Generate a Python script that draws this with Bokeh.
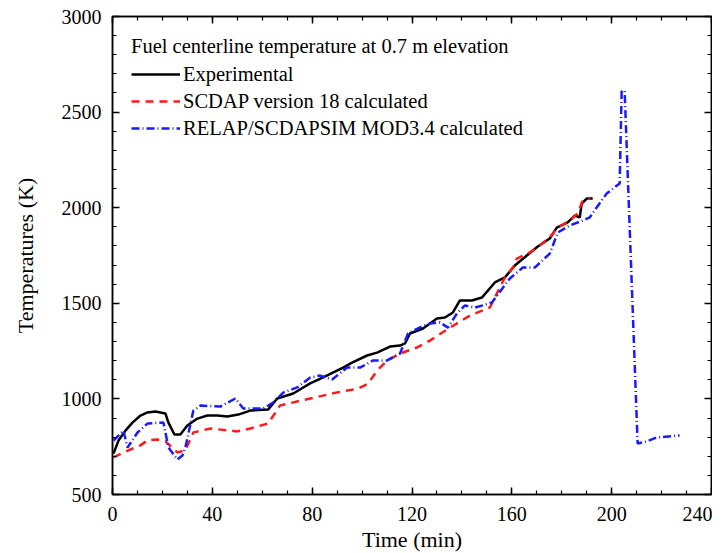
from bokeh.plotting import figure
from bokeh.models import LinearAxis, SingleIntervalTicker, Legend, LegendItem, Range1d, CustomJSTickFormatter
from bokeh.embed import file_html
from bokeh.resources import INLINE

# ---- data ----
exp_t = [0.4, 2.4, 5.2, 8, 11.2, 14, 17.2, 21.2, 22.4, 24.8, 27.2, 30, 34, 38, 42, 46, 50.4,
         55.2, 62.4, 66, 72.4, 79.2, 84.4, 92.4, 96, 102, 106, 111.2, 115.2, 117.2, 119.2,
         124.4, 130, 133.2, 136.4, 139.2, 144, 148, 153.2, 157.2, 161.2, 166, 170.4, 175.2,
         178, 182.4, 185.2, 187.2, 188, 190, 192.4]
exp_T = [714, 782, 834, 876, 913, 929, 934, 924, 876, 814, 814, 861, 897, 913, 913, 908, 918,
         939, 945, 1002, 1028, 1081, 1112, 1164, 1190, 1227, 1242, 1274, 1279, 1290, 1342,
         1368, 1421, 1426, 1452, 1515, 1515, 1530, 1609, 1635, 1698, 1750, 1797, 1839,
         1896, 1923, 1959, 1949, 2022, 2048, 2048]

scdap_t = [0.4, 4.4, 11.2, 14, 18, 21.2, 26, 29.2, 32.4, 39.2, 50, 55.2, 62.4, 67.2, 79.2, 90,
           98.4, 102.4, 106, 110, 115.2, 122, 127.2, 135.2, 143.2, 151.2, 154, 157.2, 160.4,
           162, 167.2, 171.2, 175.2, 178, 183.2, 186.4, 188.4, 191.2]
scdap_T = [694, 720, 757, 783, 788, 778, 720, 731, 825, 845, 830, 845, 872, 966, 1002, 1034,
           1054, 1080, 1148, 1200, 1237, 1269, 1305, 1373, 1436, 1478, 1551, 1635, 1687,
           1734, 1766, 1803, 1845, 1892, 1933, 1970, 2038, 2048]

relap_t = [0.4, 4.4, 6, 10, 14, 20.4, 22.4, 26, 28, 29.2, 32.4, 35.2, 43.2, 49.2, 52.4, 60.4,
           64.4, 68.4, 74, 79.2, 83.2, 88, 94, 99.2, 104.4, 110, 115.2, 118.4, 124, 127.2,
           131.2, 134.4, 138, 141.2, 145.2, 148.4, 152, 159.2, 164.4, 169.2, 175.2, 178.4,
           183.2, 188.4, 191.2, 194, 198, 203.2, 204, 205.2, 210.4, 214, 218, 227.2]
relap_T = [782, 834, 745, 824, 871, 877, 746, 683, 704, 746, 939, 965, 960, 1002, 950, 950,
           981, 1033, 1060, 1112, 1122, 1101, 1164, 1164, 1201, 1201, 1237, 1342, 1379, 1394,
           1400, 1373, 1447, 1489, 1478, 1489, 1504, 1630, 1687, 1687, 1760, 1870,
           1907, 1933, 1949, 2001, 2074, 2127, 2610, 2610, 767, 777, 798, 809]

legend_title = "Fuel centerline temperature at 0.7 m elevation"
labels = ["Experimental", "SCDAP version 18 calculated", "RELAP/SCDAPSIM MOD3.4 calculated"]

FONT = "Liberation Serif"

p = figure(frame_width=599, frame_height=478, x_range=Range1d(0, 240), y_range=Range1d(500, 3000),
           output_backend="svg", toolbar_location=None,
           min_border_left=112, min_border_right=1, min_border_top=16, min_border_bottom=51,
           x_axis_label="Time (min)", y_axis_label="Temperatures (K)")
p.xgrid.visible = False
p.ygrid.visible = False
p.outline_line_color = "black"
p.outline_line_width = 1.5
p.background_fill_color = "white"
p.border_fill_color = "white"

def style_axis(ax, labels_on=True):
    ax.axis_line_color = "black"
    ax.axis_line_width = 1.5
    ax.major_tick_in = 7
    ax.major_tick_out = 0
    ax.minor_tick_in = 4
    ax.minor_tick_out = 0
    ax.major_tick_line_color = "black"
    ax.minor_tick_line_color = "black"
    ax.major_tick_line_width = 1.5
    ax.minor_tick_line_width = 1.2
    ax.major_label_text_font = FONT
    ax.major_label_text_font_size = "20px"
    ax.major_label_text_color = "black"
    ax.axis_label_text_font = FONT
    ax.axis_label_text_font_size = "22px"
    ax.axis_label_text_font_style = "normal"
    ax.axis_label_text_color = "black"
    if not labels_on:
        ax.formatter = CustomJSTickFormatter(code="return ''")
        ax.major_label_standoff = 0

p.xaxis.ticker = SingleIntervalTicker(interval=40, num_minor_ticks=4)
p.yaxis.ticker = SingleIntervalTicker(interval=500, num_minor_ticks=5)
for ax in p.xaxis:
    style_axis(ax)
    ax.major_label_standoff = 12
    ax.axis_label_standoff = 3
for ax in p.yaxis:
    style_axis(ax)
    ax.major_label_standoff = 11
    ax.axis_label_standoff = 21

top = LinearAxis(ticker=SingleIntervalTicker(interval=40, num_minor_ticks=4))
style_axis(top, labels_on=False)
p.add_layout(top, "above")
right = LinearAxis(ticker=SingleIntervalTicker(interval=500, num_minor_ticks=5))
style_axis(right, labels_on=False)
p.add_layout(right, "right")

r1 = p.line(exp_t, exp_T, line_color="black", line_width=2.5)
r2 = p.line(scdap_t, scdap_T, line_color="#ff1a1a", line_width=2.5, line_dash="8 6")
r3 = p.line(relap_t, relap_T, line_color="#1a1aff", line_width=2.5, line_dash="8 3 1 3")

legend = Legend(items=[LegendItem(label=labels[0], renderers=[r1]),
                       LegendItem(label=labels[1], renderers=[r2]),
                       LegendItem(label=labels[2], renderers=[r3])],
                location="top_left", margin=19, padding=0, spacing=3,
                glyph_width=49, glyph_height=24, label_height=24, label_standoff=3,
                title=legend_title, title_text_font=FONT, title_text_font_size="20.5px",
                title_text_font_style="normal", title_text_color="black", title_standoff=4,
                label_text_font=FONT, label_text_font_size="20.5px", label_text_color="black",
                border_line_alpha=0, background_fill_alpha=0)
p.add_layout(legend)

open("out.html", "w").write(file_html(p, INLINE))
